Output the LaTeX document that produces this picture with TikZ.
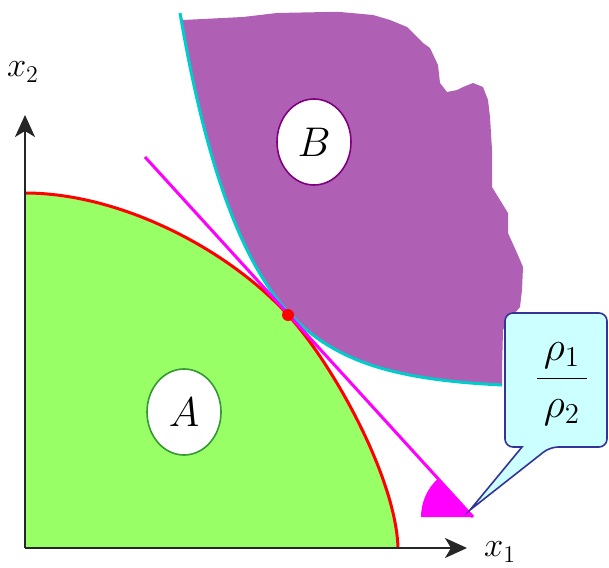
\documentclass[tikz,border=0pt]{standalone}
\usepackage{amsmath}
\usetikzlibrary{positioning}
\usetikzlibrary{calc}
\usetikzlibrary{arrows.meta}
\usetikzlibrary{shapes.geometric}
\definecolor{agreen}{RGB}{153,255,102}
\definecolor{aline}{RGB}{51,153,51}
\definecolor{bpurple}{RGB}{176,96,180}
\definecolor{bline}{RGB}{128,0,128}
\definecolor{bcyan}{RGB}{0,204,204}
\definecolor{pline}{RGB}{255,0,255}
\definecolor{calloutfill}{RGB}{204,255,255}
\definecolor{calloutline}{RGB}{51,51,153}

\begin{document}
\begin{tikzpicture}[x=0.5pt, y=-0.5pt,
    axis/.style={black!85, line width=1pt, -{Stealth[length=11pt,width=10pt,inset=3pt]}},
    setlabel/.style={ellipse, fill=white, line width=0.8pt, minimum width=37pt, minimum height=43pt, inner sep=0pt, font=\fontsize{20}{24}\selectfont},
    axislabel/.style={font=\fontsize{17}{20}\selectfont}]
    \useasboundingbox (0,0) rectangle (609,567);

    \coordinate (O) at (25,548);
    \coordinate (xend) at (467,548);
    \coordinate (yend) at (25,115);
    \coordinate (ls) at (145,157);
    \coordinate (apex) at (473,517);
    \coordinate (tip) at (470,510);
    \coordinate (Atop) at (25,193);
    \coordinate (Abot) at (398,548);
    \coordinate (Btop) at (180,13);
    \coordinate (Bend) at (502,385);

    % feasible set A
    \fill[agreen] (O) -- (Atop) .. controls (120,193) and (228,249) .. (288,315)
        .. controls (333,364) and (396,478) .. (Abot) -- cycle;
    \draw[red, line width=1.5pt] (Atop) .. controls (120,193) and (228,249) .. (288,315)
        .. controls (333,364) and (396,478) .. (Abot);

    % preferred set B
    \fill[bpurple] (Btop) .. controls (205,160) and (240,260) .. (288,312)
        .. controls (335,364) and (400,380) .. (Bend)
        -- (502,370) -- (503,330) -- (507,323) -- (515,313) -- (520,307) -- (522,290) -- (523,267) -- (517,253) -- (508,233) -- (508,213) -- (500,200) -- (492,187) -- (492,150) -- (490,117) -- (488,100) -- (483,87) -- (473,83) -- (463,87) -- (457,90) -- (447,92) -- (440,83) -- (438,65) -- (430,48) -- (423,43) -- (407,27) -- (390,20) -- (373,15) -- (340,12) -- (327,12) -- (277,13) -- (243,17) -- (183,20) -- cycle;
    \draw[bcyan, line width=1.5pt] (Btop) .. controls (205,160) and (240,260) .. (288,312)
        .. controls (335,364) and (400,380) .. (Bend);

    % price line and its angle
    \draw[pline, line width=1.5pt] (ls) -- (apex);
    \fill[pline] (apex) -- ++(-52,0) arc[start angle=180, end angle=227.7, radius=52] -- cycle;
    \node[circle, fill=red, inner sep=0pt, minimum size=6pt] (E) at (288,315) {};

    \node[setlabel, draw=aline] (A) at (184,412) {$A$};
    \node[setlabel, draw=bline] (B) at (314,142) {$B$};

    \draw[axis] (O) -- (xend);
    \draw[axis] (O) -- (yend);
    \node[axislabel] (x1) at (500,552) {$x_1$};
    \node[axislabel] (x2) at (23,72) {$x_2$};

    % callout
    \draw[calloutline, fill=calloutfill, line width=0.8pt, rounded corners=4pt]
        (505,313) -- (607,313) -- (607,447) -- (550,447) [sharp corners] -- (tip) -- (522,447) [rounded corners=4pt] -- (505,447) -- cycle;
    \node[font=\fontsize{20}{24}\selectfont] (ratio) at (562,384) {$\dfrac{\,\rho_1\,}{\,\rho_2\,}$};
\end{tikzpicture}
\end{document}
